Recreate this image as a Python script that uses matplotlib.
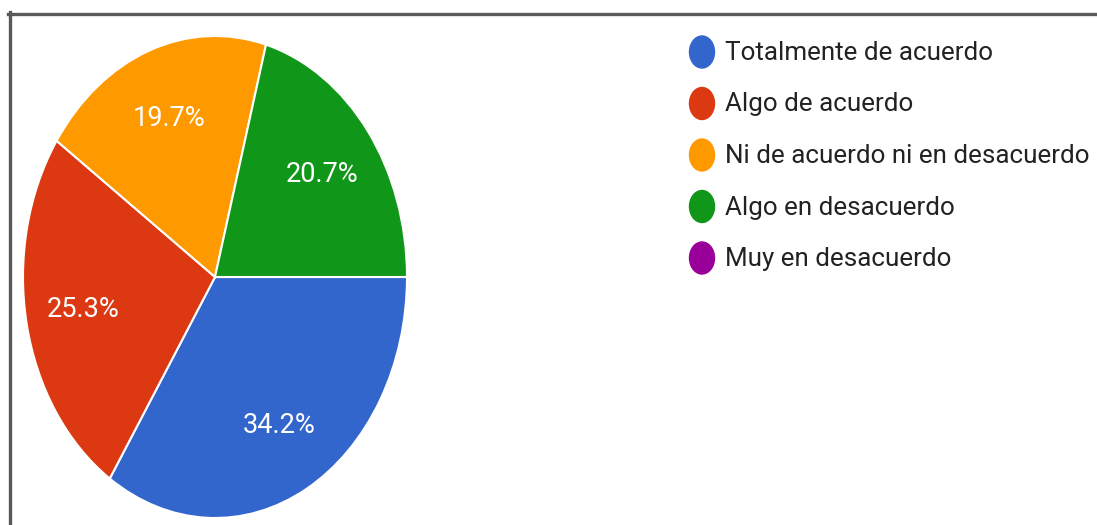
import matplotlib
matplotlib.use("Agg")
from matplotlib import pyplot as plt
from matplotlib.patches import Ellipse
from matplotlib.lines import Line2D

# datos de la encuesta
categorias = ["Totalmente de acuerdo", "Algo de acuerdo",
              "Ni de acuerdo ni en desacuerdo", "Algo en desacuerdo",
              "Muy en desacuerdo"]
porcentajes = [34.2, 25.3, 19.7, 20.7, 0.0]
colores = ["#3366cc", "#dc3912", "#ff9900", "#109618", "#990099"]

W, H = 1097, 525
fig = plt.figure(figsize=(W / 100, H / 100), dpi=100)
plt.rcParams['font.family'] = ['Roboto', 'DejaVu Sans']

# pastel (estirado verticalmente como en la imagen)
ax = fig.add_axes([23 / W, 7 / H, 384 / W, 482 / H])
vals = [v for v in porcentajes if v > 0]
cols = [c for v, c in zip(porcentajes, colores) if v > 0]
wedges, texts, autotexts = ax.pie(vals, colors=cols, startangle=0, counterclock=False,
                                  autopct="%.1f%%", pctdistance=0.7,
                                  wedgeprops=dict(edgecolor="white", linewidth=1.5),
                                  textprops=dict(color="white", fontsize=19.5))
ax.set_aspect("auto")
ax.set_xlim(-1, 1)
ax.set_ylim(-1, 1)
ax.axis("off")

# leyenda
lg = fig.add_axes([0, 0, 1, 1])
lg.set_xlim(0, W)
lg.set_ylim(H, 0)
lg.axis("off")
y0 = 52
paso = 51.5
for i in range(len(categorias)):
    y = y0 + i * paso
    lg.add_patch(Ellipse((702, y), 25, 32, color=colores[i]))
    lg.text(725, y + 1, categorias[i], fontsize=18.7, color="#222222",
            va="center", ha="left")

# marco
fig.add_artist(Line2D([8 / W, 1], [1 - 13.5 / H, 1 - 13.5 / H], transform=fig.transFigure,
                      color="#595959", linewidth=2.4))
fig.add_artist(Line2D([9.5 / W, 9.5 / W], [1 - 12 / H, 0], transform=fig.transFigure,
                      color="#595959", linewidth=2.4))

plt.savefig("out.png", dpi=100)
